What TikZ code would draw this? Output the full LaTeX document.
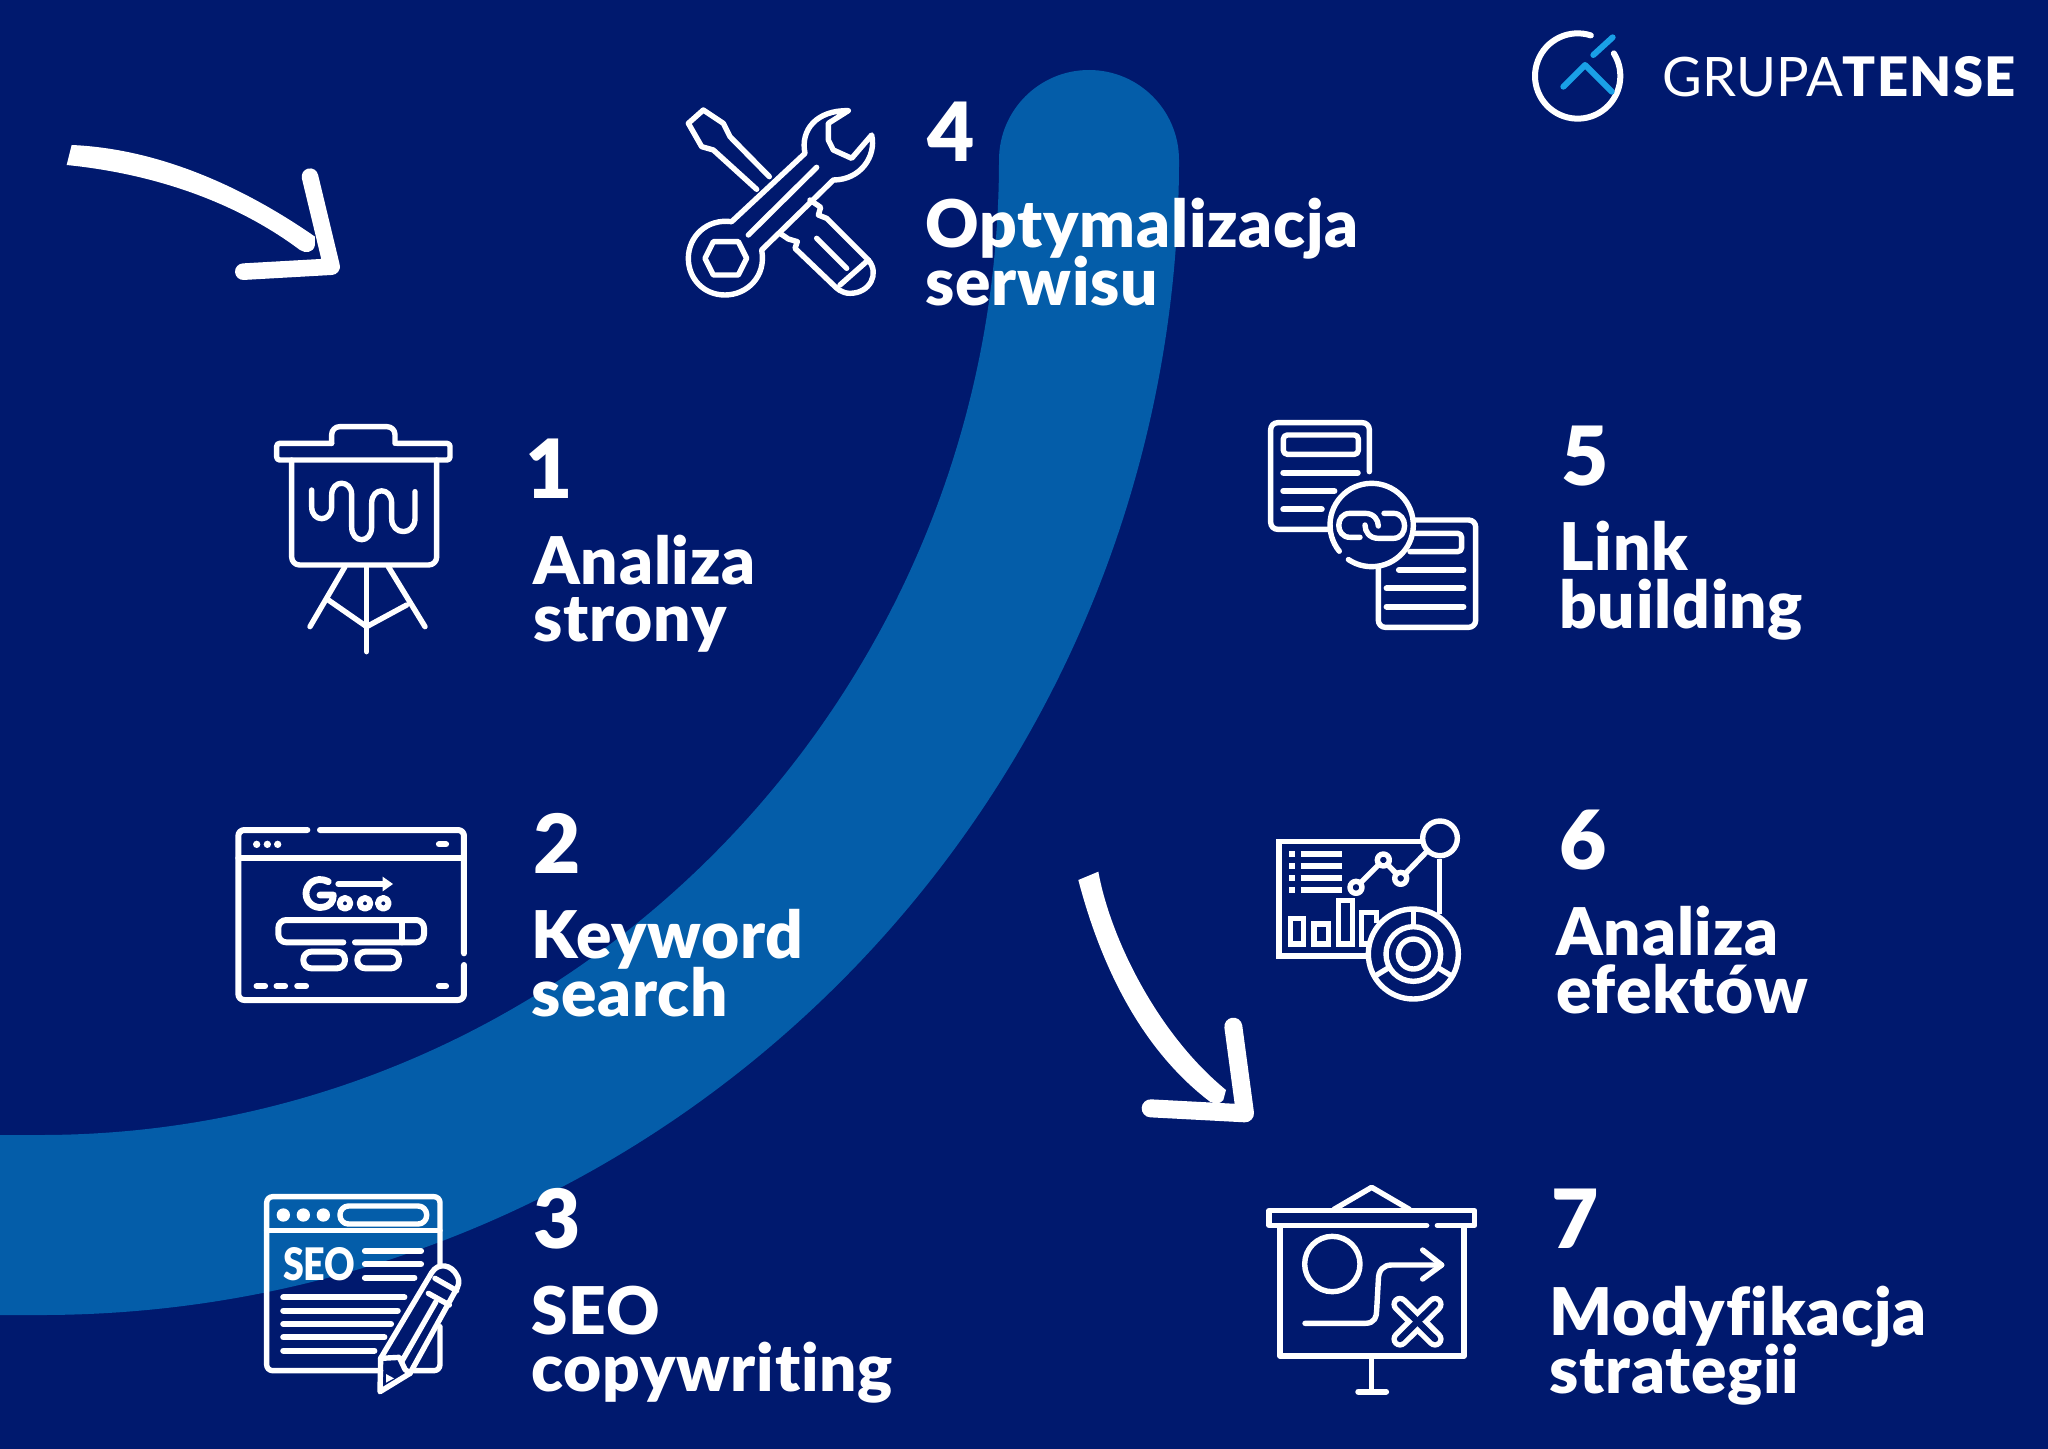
\documentclass[tikz,border=0pt]{standalone}
\usepackage{fontspec}
\setmainfont{Lato}
\newfontfamily\heavy[Ligatures=NoCommon,LetterSpace=1.2]{Lato Black}
\newfontfamily\heavyn[Ligatures=NoCommon]{Lato Black}
\newfontfamily\logotense[LetterSpace=2.5]{Lato Black}
\definecolor{navy}{RGB}{0,25,110}
\definecolor{bandblue}{RGB}{4,93,169}
\definecolor{logoblue}{RGB}{26,160,230}
\newcommand{\garc}[5]{plot[domain=#4:#5,samples=60] ({#1+#3*cos(\x)},{#2+#3*sin(\x)})}
\tikzset{
  zoomed/.style={shift={(#1)},x=0.16667bp,y=-0.16667bp},
  ic/.style={draw=white,line width=2.7bp,line cap=round,line join=round},
  thk/.style={draw=white,line width=3.1bp,line cap=round},
  num/.style={anchor=base west,inner sep=0pt,text=white,yshift=-1bp,font=\heavyn\fontsize{41}{41}\selectfont},
  lab/.style={anchor=base west,inner sep=0pt,text=white,yshift=-1bp,font=\heavy\fontsize{33}{33}\selectfont},
  hand/.style={draw=white,line width=8.6bp,line cap=round,line join=round},
}
\begin{document}
\begin{tikzpicture}[x=0.5bp,y=-0.5bp]
\useasboundingbox (0,0) rectangle (2048,1448);
\fill[navy] (-30,-30) rectangle (2078,1478);
% band
\draw[bandblue,line width=90bp,line cap=round] (1089,160) .. controls (1089,748) and (620,1225) .. (40,1225) -- (-300,1225);
% hand arrows
\begin{scope}[zoomed={50,130}]
\fill[white] (65,45) .. controls (300,55) and (550,150) .. (795,320) -- (795,345) .. controls (790,370) and (765,370) .. (750,360) .. controls (550,210) and (300,130) .. (50,105) -- cycle;
\draw[hand,line width=8.3bp] (780,140) -- (845,410) -- (580,425);
\end{scope}
\begin{scope}[zoomed={1060,860}]
\fill[white] (55,60) -- (115,35) .. controls (150,230) and (290,520) .. (498,690) -- (490,720) .. controls (480,735) and (460,730) .. (450,725) .. controls (220,550) and (110,270) .. (55,60) -- cycle;
\draw[hand,line width=9bp] (520,500) -- (555,760) -- (272,745);
\end{scope}

% ---- icon 4
\begin{scope}[zoomed={660,90}]
\draw[ic] (290,298) -- (160,180) -- (125,170) -- (85,100) -- (130,60) -- (190,100) -- (210,140) -- (328,260);
\draw[ic] (450,330) -- (482,352) -- (475,375) -- (500,385) -- (625,510) .. controls (660,550) and (630,610) .. (570,610) .. controls (545,610) and (530,595) .. (520,585) -- (405,475) -- (412,455) -- (385,447) -- (360,430);
\draw[ic] (470,445) -- (560,535);
\draw[ic] (540,585) -- (625,510);
\draw[ic] (565,62) -- (505,100) -- (505,150) -- (520,180) -- (575,205) -- (635,135) .. controls (650,200) and (600,270) .. (520,270) -- (305,480) .. controls (320,560) and (260,615) .. (195,615) .. controls (130,615) and (85,565) .. (85,505) .. controls (85,440) and (140,385) .. (215,395) -- (435,190) .. controls (420,120) and (470,60) .. (565,62);
\draw[ic] (265,435) -- (470,232);
\draw[ic] (160,455) -- (235,455) -- (260,505) -- (235,555) -- (160,555) -- (135,505) -- cycle;
\end{scope}

% ---- icon 1
\begin{scope}[zoomed={260,410}]
\draw[ic,rounded corners=1.5pt] (215,100) -- (50,100) -- (50,150) -- (570,150) -- (570,100) -- (410,100);
\draw[ic,rounded corners=4pt] (215,100) -- (215,50) -- (405,50) -- (405,100);
\draw[ic,rounded corners=4pt] (95,150) -- (95,465) -- (530,465) -- (530,150);
\draw[ic] (155,240) -- (155,290) .. controls (155,338) and (215,338) .. (215,290) -- (215,255) .. controls (215,208) and (275,208) .. (275,255) -- (275,350) .. controls (275,402) and (335,402) .. (335,350) -- (335,280) .. controls (335,230) and (395,230) .. (395,280) -- (395,325) .. controls (395,378) and (465,378) .. (465,325) -- (465,245);
\draw[ic] (255,470) -- (150,650);
\draw[ic] (385,470) -- (495,650);
\draw[ic] (320,470) -- (320,725);
\draw[ic] (205,570) -- (320,650) -- (440,585);
\end{scope}

% ---- icon 2
\begin{scope}[zoomed={220,810}]
\draw[ic,line width=3bp,rounded corners=3pt] (262,60) -- (55,60) -- (55,570) -- (732,570) -- (732,465);
\draw[ic,line width=3bp,rounded corners=3pt] (732,430) -- (732,60) -- (300,60);
\draw[ic,line width=3bp] (55,145) -- (732,145);
\foreach \p in {110,142,173} \fill[white] (\p,103) circle (11);
\draw[thk] (657,103) -- (678,103);
\draw[thk] (110,528) -- (135,528);
\draw[thk] (170,528) -- (195,528);
\draw[thk] (232,528) -- (258,528);
\draw[thk] (657,528) -- (678,528);
\draw[ic,line width=3.4bp] (325,215) .. controls (285,195) and (258,225) .. (258,250) .. controls (258,280) and (285,295) .. (305,292) .. controls (330,290) and (340,275) .. (340,255) -- (300,255);
\draw[ic,line width=3bp] (355,222) -- (495,222);
\fill[white] (488,200) -- (519,222) -- (488,244) -- cycle;
\foreach \p in {375,435,490} \draw[ic,line width=3bp] (\p,280) circle (16);
\draw[ic,line width=3bp,rounded corners=4pt] (370,397) -- (175,397) -- (175,330) -- (612,330) -- (612,397) -- (405,397);
\draw[ic,line width=3bp] (545,330) -- (545,397);
\draw[ic,line width=3bp,rounded corners=4pt] (250,425) rectangle (375,475);
\draw[ic,line width=3bp,rounded corners=4pt] (412,425) rectangle (537,475);
\end{scope}

% ---- icon 3
\begin{scope}[zoomed={250,1180}]
\draw[ic,rounded corners=3pt] (570,250) -- (570,50) -- (50,50) -- (50,572) -- (392,572);
\draw[ic,rounded corners=3pt] (492,572) -- (570,572) -- (570,440);
\draw[ic] (50,152) -- (570,152);
\foreach \p in {100,160,220} \fill[white] (\p,105) circle (20);
\draw[ic,rounded corners=4.3pt] (270,78) rectangle (530,132);
\node (seo) [anchor=base west,inner sep=0pt,text=white,xscale=0.84,font=\heavyn\fontsize{22.5}{22.5}\selectfont] at (98,300) {SEO};
\draw[thk] (345,213) -- (513,213);
\draw[thk] (345,253) -- (513,253);
\draw[thk] (345,293) -- (493,293);
\draw[thk] (100,352) -- (463,352);
\draw[thk] (100,392) -- (443,392);
\draw[thk] (100,432) -- (423,432);
\draw[thk] (100,472) -- (403,472);
\draw[thk] (100,512) -- (373,512);
\end{scope}
\begin{scope}[zoomed={360,1250}]
\draw[ic] (62,325) -- (215,68) .. controls (235,35) and (275,45) .. (290,75) .. controls (302,95) and (295,110) .. (285,125) -- (150,370) -- (60,425) -- cycle;
\draw[ic] (205,130) -- (268,165);
\draw[ic] (225,85) -- (290,122);
\draw[ic] (125,335) -- (228,155);
\draw[ic] (62,325) -- (118,322) -- (135,358) -- (150,370);
\fill[white] (78,372) -- (102,385) -- (78,398) -- cycle;
\end{scope}

% ---- icon 5
\begin{scope}[zoomed={1250,410}]
\draw[ic,rounded corners=3.5pt] (358,185) -- (358,38) -- (62,38) -- (62,358) -- (240,358);
\draw[ic,rounded corners=2pt] (100,75) rectangle (325,133);
\draw[thk] (100,188) -- (323,188);
\draw[thk] (100,243) -- (253,243);
\draw[thk] (100,298) -- (215,298);
\draw[ic] \garc{365}{345}{125}{141}{484};
\draw[ic] (330,382) -- (300,382) .. controls (255,382) and (255,310) .. (300,310) -- (345,310) .. controls (372,310) and (385,330) .. (385,348);
\draw[ic] (402,310) -- (430,310) .. controls (475,310) and (475,385) .. (430,385) -- (385,385) .. controls (358,385) and (345,365) .. (345,345);
\draw[ic,rounded corners=3.5pt] (385,470) -- (385,652) -- (677,652) -- (677,330) -- (495,330);
\draw[ic,rounded corners=2pt] (495,370) -- (635,370) -- (635,425) -- (480,425);
\draw[thk] (447,480) -- (640,480);
\draw[thk] (410,535) -- (640,535);
\draw[thk] (410,590) -- (640,590);
\end{scope}

% ---- icon 6
\begin{scope}[zoomed={1260,810}]
\draw[ic,line cap=butt,line join=miter] (482,95) -- (57,95) -- (57,438) -- (322,438);
\draw[ic,line cap=butt] (538,148) -- (538,312);
\draw[ic] (540,85) circle (52);
\foreach \p in {132,168,204,240} {
  \fill[white] (86,\p-9) rectangle (104,\p+9);
  \draw[white,line width=3bp] (122,\p) -- (245,\p);
}
\draw[ic] (288,232) circle (18);
\draw[ic] (370,150) circle (18);
\draw[ic] (422,205) circle (18);
\draw[ic] (302,218) -- (358,162);
\draw[ic] (382,163) -- (410,192);
\draw[ic] (435,192) -- (500,125);
\draw[ic,line join=miter] (92,325) rectangle (130,402);
\draw[ic,line join=miter] (162,342) rectangle (205,402);
\draw[ic,line join=miter] (235,272) rectangle (278,402);
\draw[ic,line join=miter,line cap=butt] (350,340) -- (350,307) -- (305,307) -- (305,402) -- (330,402);
\draw[ic] (460,432) circle (135);
\draw[ic] (460,432) circle (82);
\draw[ic] (460,432) circle (45);
\draw[ic,line cap=butt] (460,300) -- (460,350);
\draw[ic,line cap=butt] (388,472) -- (345,498);
\draw[ic,line cap=butt] (532,472) -- (575,498);
\end{scope}

% ---- icon 7
\begin{scope}[zoomed={1250,1170}]
\draw[ic] (530,166) -- (57,166) -- (57,122) -- (674,122) -- (674,166) -- (562,166);
\draw[ic] (252,118) -- (365,52) -- (478,118);
\draw[ic] (90,170) -- (90,558) -- (642,558) -- (642,170);
\draw[ic] (365,560) -- (365,665);
\draw[thk] (325,665) -- (408,665);
\draw[ic] (247,282) circle (83);
\draw[ic] (165,460) -- (345,460) .. controls (375,460) and (380,440) .. (380,420) -- (385,330) .. controls (385,300) and (400,285) .. (425,285) -- (575,285);
\draw[ic] (518,240) -- (575,285) -- (518,327);
\draw[white,line width=8.6bp,line cap=round] (450,403) -- (555,507);
\draw[white,line width=8.6bp,line cap=round] (555,403) -- (450,507);
\draw[navy,line width=3.2bp,line cap=round] (450,403) -- (555,507);
\draw[navy,line width=3.2bp,line cap=round] (555,403) -- (450,507);
\end{scope}

% ---- logo
\begin{scope}[zoomed={1510,10}]
\draw[white,line width=3bp,line cap=round] \garc{203}{198}{128}{-32}{288};
\draw[logoblue,line width=3bp,line cap=round] (250,135) -- (308,82);
\draw[logoblue,line width=3bp,line cap=round,line join=round] (160,230) -- (225,165) -- (305,245);
\end{scope}
\node (logotext) [anchor=base west,inner sep=0pt,text=white] at (1662,97) {\fontsize{27.3}{27.3}\selectfont GRUPA{\logotense TENSE}};

% ---- labels
\node (n4) [num] at (927,159) {4};
\node (t4a) [lab] at (925,245) {Optymalizacja};
\node (t4b) [lab] at (925,303) {serwisu};
\node (n1) [num] at (525,496) {1};
\node (t1a) [lab] at (533,582) {Analiza};
\node (t1b) [lab] at (533,639) {strony};
\node (n2) [num] at (533,871) {2};
\node (t2a) [lab] at (531,956) {Keyword};
\node (t2b) [lab] at (531,1014) {search};
\node (n3) [num] at (533,1246) {3};
\node (t3a) [lab] at (531,1332) {SEO};
\node (t3b) [lab] at (531,1389) {copywriting};
\node (n5) [num] at (1561,483) {5};
\node (t5a) [lab] at (1559,568) {Link};
\node (t5b) [lab] at (1559,626) {building};
\node (n6) [num] at (1559,867) {6};
\node (t6a) [lab] at (1556,953) {Analiza};
\node (t6b) [lab] at (1556,1011) {efektów};
\node (n7) [num] at (1551,1246) {7};
\node (t7a) [lab] at (1549,1333) {Modyfikacja};
\node (t7b) [lab] at (1549,1391) {strategii};
\end{tikzpicture}
\end{document}
